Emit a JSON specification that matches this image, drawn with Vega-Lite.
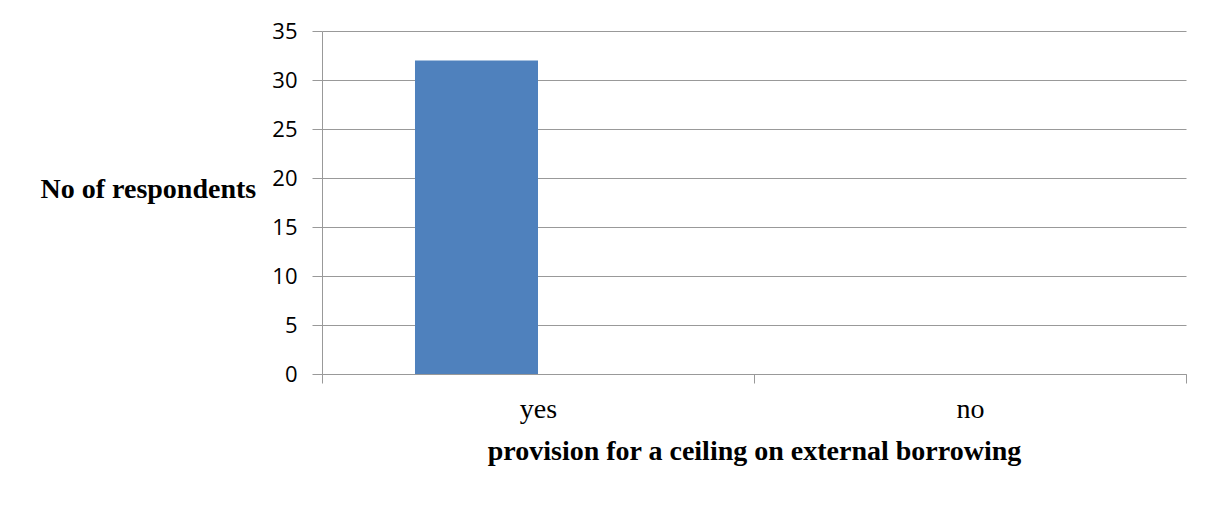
{
  "$schema": "https://vega.github.io/schema/vega-lite/v6.json",
  "width": 864,
  "height": 343,
  "autosize": {"type": "none"},
  "padding": {"left": 322, "top": 31, "right": 29, "bottom": 155},
  "background": "white",
  "data": {"values": [
    {"answer": "yes", "series": "1", "respondents": 32},
    {"answer": "yes", "series": "2", "respondents": 0},
    {"answer": "no", "series": "1", "respondents": 0},
    {"answer": "no", "series": "2", "respondents": 0}
  ]},
  "mark": {"type": "bar", "color": "#4F81BD"},
  "encoding": {
    "x": {
      "field": "answer", "type": "nominal", "sort": ["yes", "no"],
      "scale": {"paddingInner": 0, "paddingOuter": 0},
      "axis": {
        "title": "provision for a ceiling on external borrowing",
        "titleFont": "Liberation Serif", "titleFontSize": 28, "titleFontWeight": "bold", "titleColor": "#000",
        "titlePadding": 14,
        "labelFont": "Liberation Serif", "labelFontSize": 28, "labelColor": "#000", "labelPadding": 12,
        "labelAngle": 0,
        "tickBand": "extent", "tickSize": 9, "tickColor": "#999", "domainColor": "#999",
        "grid": false
      }
    },
    "xOffset": {
      "field": "series", "type": "nominal",
      "scale": {"paddingInner": 0, "paddingOuter": 0.756}
    },
    "y": {
      "field": "respondents", "type": "quantitative",
      "scale": {"domain": [0, 35]},
      "axis": {
        "values": [0, 5, 10, 15, 20, 25, 30, 35],
        "title": "No of respondents",
        "titleAngle": 0, "titleAlign": "left", "titleBaseline": "middle",
        "titleX": -282, "titleY": 158,
        "titleFont": "Liberation Serif", "titleFontSize": 28, "titleFontWeight": "bold", "titleColor": "#000",
        "labelFont": "Open Sans", "labelFontSize": 22, "labelColor": "#000", "labelPadding": 15,
        "tickSize": 10, "tickColor": "#999", "domainColor": "#999",
        "grid": true, "gridColor": "#999"
      }
    }
  },
  "config": {"view": {"stroke": null}}
}
